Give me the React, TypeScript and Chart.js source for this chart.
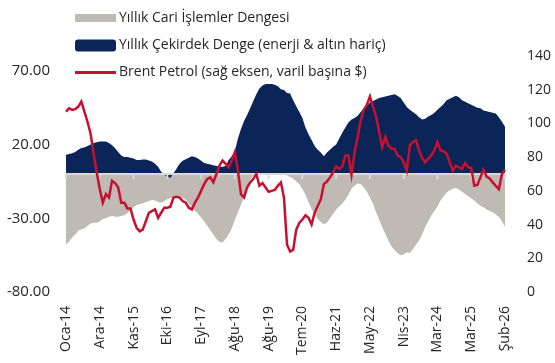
import React, { useEffect, useRef } from 'react';
import { Chart, registerables } from 'chart.js';

Chart.register(...registerables);

const tickLabels = ['Oca-14', 'Ara-14', 'Kas-15', 'Eki-16', 'Eyl-17', 'Ağu-18', 'Ağu-19', 'Tem-20', 'Haz-21', 'May-22', 'Nis-23', 'Mar-24', 'Mar-25', 'Şub-26'];
const tickStep = 11;

const cariDenge = [
  -48, -46, -43, -41, -38.5, -37.5, -37, -35, -33.5, -33, -33, -32, -30.5, -30, -29, -28.5, -29, -29, -28.5, -28,
  -26.5, -24.5, -22.5, -21, -20.5, -20, -19, -18.5, -17.5, -18, -19, -19.5, -18.5, -17, -16.5, -15.5, -15,
  -15.5, -16, -17.5, -20, -22.5, -25, -27, -29.5, -32, -35, -38, -41, -44, -46, -46.5, -44, -41, -37, -31, -26, -21, -15,
  -9, -4, -1, 1.5, 4, 6, 7, 8, 8.5, 7, 5, 3, 1, -1, -2, -3, -5, -7, -10, -14, -19, -23.5, -27, -30.5, -32.5, -34, -33,
  -30, -27, -24, -22, -20, -17.5, -14, -10, -8, -6.5, -7, -9, -12, -16, -20, -26, -31, -36, -40.5, -45, -49, -51.5,
  -53.5, -55, -54.5, -53,
  -53.5, -51, -48, -45, -41, -36, -32, -28, -25, -22, -18, -15, -12.5, -11, -10, -9.5, -10.5, -12, -13.5, -15, -16.5,
  -18, -20, -21.5, -22.5, -24, -25, -26, -27.5, -29, -32, -36,
];

const cekirdekDenge = [
  13, 13.5, 14, 15, 16.5, 17.6, 18, 19, 20, 21, 21.5, 22, 22, 22, 21, 19.5, 17.5, 15, 12.5, 11.5, 11.5, 11, 10.5,
  9.5, 9.5, 9.8, 9.8, 9.2, 8.5, 7, 5, 1.5, -0.5, -2, -2.5, 0.5, 3.5,
  7, 9, 10, 11, 12, 11.5, 10.5, 9, 7.5, 7, 6.5, 6, 5.5, 5, 5, 5.5, 9.5, 12, 15.5, 24, 30.5, 36, 40, 44.5, 49.5, 54,
  58, 60, 61, 61, 61, 60.5, 59.5, 57.5, 57, 55, 54.5, 50, 46, 42, 38, 31.5, 27, 23, 19, 16.5, 14.5, 12, 14.5, 16.5,
  18.5, 20, 24, 28, 31.5, 35, 37, 38, 39.5, 42, 44.5, 46, 48.5, 49.5, 50.5, 51.5, 52, 52.5, 53, 53.5, 54, 53, 51.5,
  48.5, 45.5,
  43.5, 42, 40.5, 38.5, 37, 37.5, 39, 40, 41.5, 43.5, 45.5, 47.5, 50, 51, 52, 53, 52, 50, 49, 48, 47, 46, 45, 44.5,
  43, 42.5, 42, 41.5, 41, 38.5, 35.5, 32,
];

const brent = [
  107, 109, 108, 108.5, 110, 113, 107, 101, 94, 82, 71, 61, 53, 58, 56, 66, 64.6, 62, 53, 53, 49.6, 49.6, 43, 38, 36,
  37, 42, 47, 48, 49, 44, 47, 50, 50, 50.6, 56, 56.5,
  56, 54, 53, 50, 49, 53, 56, 60, 64, 67, 68, 65, 70, 75, 78, 76, 74, 78, 83, 72, 58, 56, 62, 65, 67, 70, 63, 64.6, 62,
  59.5, 60, 60.5, 63, 65, 56, 28, 24, 25, 37, 41, 43, 45.5, 44, 40, 47, 51, 55, 64, 65.5, 68, 71, 74.5, 73, 74.5, 81,
  81, 69.5, 83, 92, 102, 108, 111, 116, 110, 104, 95, 86, 92, 87, 85, 85, 81, 80, 77, 72,
  87, 89, 90, 84, 79.5, 77, 79, 81, 84, 89, 84, 83.5, 82, 77, 72, 75, 74, 73, 76.5, 74, 73.5, 63, 63.5, 68, 72.5,
  68.5, 67.4, 65, 63, 61, 70, 72.5,
];

const leftTicks = [-80, -30, 20, 70];
const rightTicks = [0, 20, 40, 60, 80, 100, 120, 140];

const legendItems = [
  { label: 'Yıllık Cari İşlemler Dengesi', kind: 'rect', color: '#bfbab4' },
  { label: 'Yıllık Çekirdek Denge (enerji & altın hariç)', kind: 'round', color: '#0b2559' },
  { label: 'Brent Petrol (sağ eksen, varil başına $)', kind: 'line', color: '#c8102e' },
];

const categories = brent.map((_, i) => (i % tickStep === 0 ? tickLabels[i / tickStep] : ''));

const FONT = "'Open Sans', 'Noto Sans', sans-serif";
const TEXT = '#262626';

const zeroLine = {
  id: 'zeroLine',
  beforeDatasetDraw(chart: any, args: any) {
    if (args.index !== 2) return;
    const { ctx, chartArea, scales } = chart;
    const y0 = scales.y.getPixelForValue(0);
    ctx.save();
    ctx.strokeStyle = '#d9d9d9';
    ctx.lineWidth = 2;
    ctx.beginPath();
    ctx.moveTo(chartArea.left, y0);
    ctx.lineTo(chartArea.right, y0);
    categories.forEach((lab, i) => {
      if (!lab) return;
      const x = scales.x.getPixelForValue(i);
      ctx.moveTo(x, y0);
      ctx.lineTo(x, y0 + 5);
    });
    ctx.stroke();
    ctx.restore();
  },
};

const legendRows = [18, 45.5, 72.5];

const customLegend = {
  id: 'customLegend',
  afterDraw(chart: any) {
    const { ctx } = chart;
    ctx.save();
    legendItems.forEach((it, k) => {
      const y = legendRows[k];
      const x0 = 75;
      const x1 = 116;
      ctx.fillStyle = it.color;
      ctx.strokeStyle = it.color;
      if (it.kind === 'rect') {
        ctx.fillRect(x0, y - 4, x1 - x0, 8);
      } else if (it.kind === 'round') {
        ctx.beginPath();
        (ctx as any).roundRect(x0, y - 6, x1 - x0, 12, 3);
        ctx.fill();
      } else {
        ctx.lineWidth = 3;
        ctx.beginPath();
        ctx.moveTo(x0, y);
        ctx.lineTo(x1, y);
        ctx.stroke();
      }
      ctx.fillStyle = TEXT;
      ctx.font = `14px ${FONT}`;
      ctx.textBaseline = 'middle';
      ctx.textAlign = 'left';
      ctx.fillText(it.label, 119, y);
    });
    ctx.restore();
  },
};

export default function App() {
  const ref = useRef<HTMLCanvasElement | null>(null);
  useEffect(() => {
    if (!ref.current) return;
    const chart = new Chart(ref.current, {
      type: 'line',
      data: {
        labels: categories,
        datasets: [
          {
            label: legendItems[0].label,
            data: cariDenge,
            yAxisID: 'y',
            fill: 'origin',
            backgroundColor: legendItems[0].color,
            borderWidth: 0,
            pointRadius: 0,
            tension: 0,
            order: 2,
          },
          {
            label: legendItems[1].label,
            data: cekirdekDenge,
            yAxisID: 'y',
            fill: 'origin',
            backgroundColor: legendItems[1].color,
            borderWidth: 0,
            pointRadius: 0,
            tension: 0,
            order: 1,
          },
          {
            label: legendItems[2].label,
            data: brent,
            yAxisID: 'y1',
            fill: false,
            borderColor: legendItems[2].color,
            borderWidth: 2.5,
            pointRadius: 0,
            tension: 0,
            order: 0,
          },
        ],
      },
      options: {
        animation: false,
        responsive: false,
        maintainAspectRatio: false,
        layout: { padding: { top: 56, left: 0, right: 0, bottom: 0 } },
        plugins: { legend: { display: false }, tooltip: { enabled: false } },
        scales: {
          x: {
            type: 'category',
            grid: { display: false, drawTicks: false },
            border: { display: false },
            ticks: {
              autoSkip: false,
              maxRotation: 90,
              minRotation: 90,
              padding: 14,
              color: TEXT,
              font: { family: FONT, size: 14 },
            },
            afterFit: (s: any) => {
              s.height = 71;
            },
          },
          y: {
            position: 'left',
            min: -80,
            max: 80,
            grid: { display: false, drawTicks: false },
            border: { display: false },
            afterBuildTicks: (axis: any) => {
              axis.ticks = leftTicks.map((v) => ({ value: v }));
            },
            ticks: {
              padding: 16,
              color: TEXT,
              font: { family: FONT, size: 15 },
              callback: (v: any) => Number(v).toFixed(2),
            },
            afterFit: (s: any) => {
              s.width = 66;
            },
          },
          y1: {
            position: 'right',
            min: 0,
            max: 140,
            grid: { display: false, drawTicks: false },
            border: { display: false },
            afterBuildTicks: (axis: any) => {
              axis.ticks = rightTicks.map((v) => ({ value: v }));
            },
            ticks: {
              padding: 22,
              color: TEXT,
              font: { family: FONT, size: 14 },
            },
            afterFit: (s: any) => {
              s.width = 50;
            },
          },
        },
      },
      plugins: [zeroLine, customLegend],
    });
    return () => chart.destroy();
  }, []);
  return (
    <div style={{ position: 'absolute', left: 0, top: 0, width: 555, height: 363, background: '#fff' }}>
      <canvas ref={ref} width={555} height={363} style={{ width: 555, height: 363 }} />
    </div>
  );
}
